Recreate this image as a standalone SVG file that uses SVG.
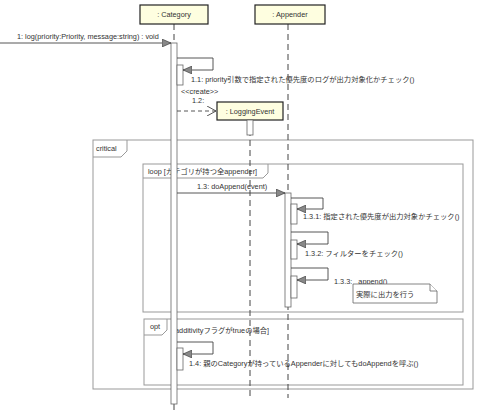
<svg xmlns="http://www.w3.org/2000/svg" width="480" height="418" viewBox="0 0 480 418">
<defs>
<style>
text{font-family:"Liberation Sans","Noto Sans CJK JP",sans-serif;font-size:7.3px;fill:#333}
.box{fill:#fefee0;stroke:#222;stroke-width:1.2}
.life{stroke:#444;stroke-width:1;stroke-dasharray:6,4;fill:none}
.act{fill:#fff;stroke:#666;stroke-width:0.8}
.msg{stroke:#444;stroke-width:0.9;fill:none}
.frame{fill:none;stroke:#999;stroke-width:1}
.note{fill:#fff;stroke:#666;stroke-width:0.8}
</style>
<marker id="sync" markerWidth="10" markerHeight="8" refX="9" refY="4" orient="auto" markerUnits="userSpaceOnUse">
<path d="M0,0 L9,4 L0,8 Z" fill="#888" stroke="#333" stroke-width="0.6"/>
</marker>
<marker id="open" markerWidth="10" markerHeight="10" refX="9" refY="5" orient="auto" markerUnits="userSpaceOnUse">
<path d="M0,0 L9,5 L0,10" fill="none" stroke="#444" stroke-width="0.9"/>
</marker>
</defs>
<rect width="480" height="418" fill="#fff"/>

<g id="frames">
<g id="critical">
<rect class="frame" x="93" y="140" width="380" height="249"/>
<path class="frame" d="M93,157 H121 L127,151 V140"/>
<text x="96" y="151">critical</text>
</g>
<g id="loop">
<rect class="frame" x="143" y="164" width="320" height="148"/>
<path class="frame" d="M143,178 H263 L268,173 V164"/>
<text x="148" y="174">loop  [カテゴリが持つ全appender]</text>
</g>
<g id="opt">
<rect class="frame" x="144" y="319" width="319" height="66"/>
<path class="frame" d="M144,335 H162 L167,330 V319"/>
<text x="150" y="329">opt</text>
<text x="173" y="333">[additivityフラグがtrueの場合]</text>
</g>
</g>

<g id="lifelines">
<line class="life" x1="174" y1="24" x2="174" y2="414"/>
<line class="life" x1="250" y1="120" x2="250" y2="398"/>
<line class="life" x1="288" y1="24" x2="288" y2="398"/>
</g>

<g id="category">
<rect class="box" x="140" y="5" width="68" height="19"/>
<text x="174" y="17" text-anchor="middle">: Category</text>
</g>
<g id="appender">
<rect class="box" x="255" y="5" width="70" height="19"/>
<text x="290" y="17" text-anchor="middle">: Appender</text>
</g>
<g id="loggingevent">
<rect class="box" x="217" y="102" width="66" height="18"/>
<text x="250" y="113.5" text-anchor="middle">: LoggingEvent</text>
<rect class="act" x="247" y="120" width="6" height="15"/>
</g>

<g id="activations">
<rect class="act" x="171" y="43" width="6" height="361"/>
<rect class="act" x="177" y="65" width="6" height="20"/>
<rect class="act" x="177" y="348" width="6" height="22"/>
<rect class="act" x="285" y="193" width="6" height="114"/>
<rect class="act" x="291" y="204" width="6" height="20"/>
<rect class="act" x="291" y="240" width="6" height="19"/>
<rect class="act" x="291" y="276" width="6" height="22"/>
</g>

<g id="connectors">
<line class="msg" x1="0" y1="43" x2="171" y2="43" marker-end="url(#sync)"/>
<text x="17" y="39">1: log(priority:Priority, message:string) : void</text>

<path class="msg" d="M177,58 H213 V70 H183" marker-end="url(#sync)"/>
<text x="191" y="82">1.1: priority引数で指定された優先度のログが出力対象化かチェック()</text>

<text x="181" y="94">&lt;&lt;create&gt;&gt;</text>
<text x="192" y="103">1.2:</text>
<line class="msg" x1="177" y1="111" x2="216" y2="111" stroke-dasharray="4,3" marker-end="url(#open)"/>

<line class="msg" x1="177" y1="193" x2="285" y2="193" marker-end="url(#sync)"/>
<text x="197" y="189">1.3: doAppend(event)</text>

<path class="msg" d="M291,198 H323 V209 H297" marker-end="url(#sync)"/>
<text x="303" y="219">1.3.1: 指定された優先度が出力対象かチェック()</text>

<path class="msg" d="M291,232 H328 V244 H297" marker-end="url(#sync)"/>
<text x="305" y="256">1.3.2: フィルターをチェック()</text>

<path class="msg" d="M291,268 H328 V280 H297" marker-end="url(#sync)"/>
<text x="334" y="284">1.3.3: _append()</text>

<path class="msg" d="M177,342 H213 V354 H183" marker-end="url(#sync)"/>
<text x="189" y="366">1.4: 親のCategoryが持っているAppenderに対してもdoAppendを呼ぶ()</text>
</g>

<g id="note">
<path class="note" d="M353,284 H430 L437,291 V303 H353 Z"/>
<path class="note" d="M430,284 V291 H437" fill="none"/>
<text x="356" y="297">実際に出力を行う</text>
</g>
</svg>
